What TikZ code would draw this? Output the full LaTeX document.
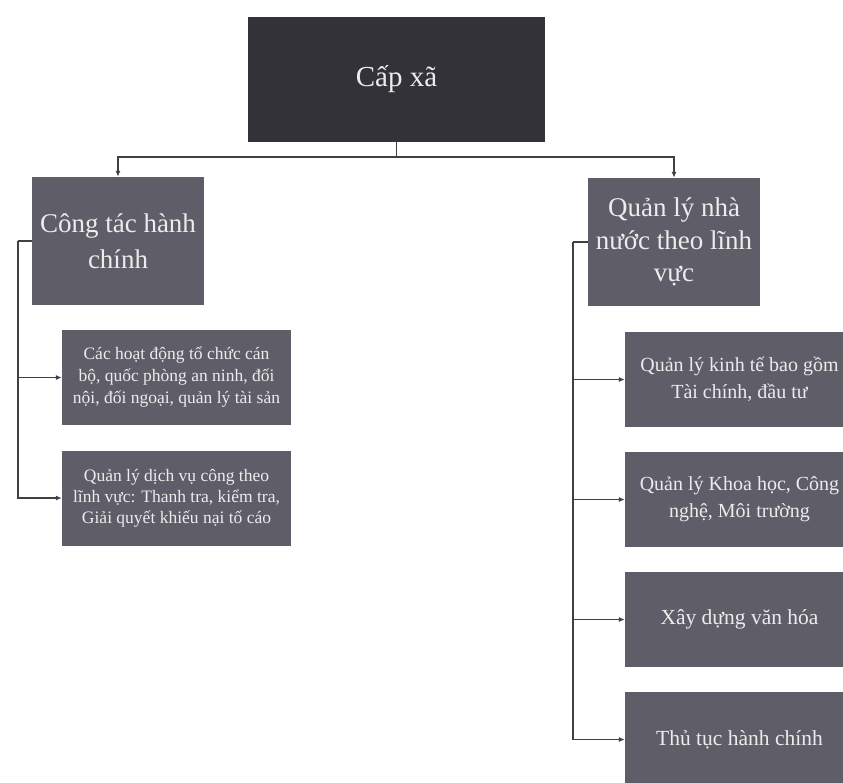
\documentclass[tikz,border=0pt]{standalone}
\usepackage{fontspec}
\setmainfont{Liberation Serif}
\usetikzlibrary{arrows.meta}
\definecolor{topfill}{HTML}{333238}
\definecolor{boxfill}{HTML}{5F5E68}
\definecolor{linecol}{HTML}{3F3F44}
\definecolor{txt}{HTML}{ECECEC}
\tikzset{
  topbox/.style={rectangle, fill=topfill, text=txt, minimum width=297pt, minimum height=125pt, inner sep=0pt, align=center, font=\fontsize{29}{32}\selectfont},
  midbox/.style={rectangle, fill=boxfill, text=txt, minimum width=172pt, minimum height=128pt, inner sep=0pt, align=center},
  subbox/.style={rectangle, fill=boxfill, text=txt, minimum width=229pt, minimum height=95pt, inner sep=0pt, align=center},
  conn/.style={draw=linecol, line width=1.5pt, -{Latex[length=6pt,width=5pt]}},
  plain/.style={draw=linecol, line width=1.5pt}
}
\begin{document}
\begin{tikzpicture}[x=1pt,y=-1pt]
\useasboundingbox (0,0) rectangle (843,782);
\clip (0,0) rectangle (843,782);
\fill[white] (0,0) rectangle (843,782);
\node[topbox] (top) at (396.5,79.5) {Cấp xã};
\node[midbox, font=\fontsize{27}{36}\selectfont] (left) at (118,241) {Công tác hành\\chính};
\node[midbox, font=\fontsize{27}{32.5}\selectfont] (right) at (674,242) {Quản lý nhà\\nước theo lĩnh\\vực};
\node[subbox, font=\fontsize{17.5}{22}\selectfont] (l1) at (176.5,377.5) {Các hoạt động tổ chức cán\\bộ, quốc phòng an ninh, đối\\nội, đối ngoại, quản lý tài sản};
\node[subbox, font=\fontsize{17.5}{21}\selectfont] (l2) at (176.5,498) {Quản lý dịch vụ công theo\\lĩnh vực: Thanh tra, kiểm tra,\\Giải quyết khiếu nại tố cáo};
\node[subbox, font=\fontsize{20}{27}\selectfont] (r1) at (739.5,379.5) {Quản lý kinh tế bao gồm\\Tài chính, đầu tư};
\node[subbox, font=\fontsize{20}{27}\selectfont] (r2) at (739.5,499.5) {Quản lý Khoa học, Công\\nghệ, Môi trường};
\node[subbox, font=\fontsize{21.5}{27}\selectfont] (r3) at (739.5,619.5) {Xây dựng văn hóa};
\node[subbox, font=\fontsize{21.5}{27}\selectfont] (r4) at (739.5,739.5) {Thủ tục hành chính};
\draw[plain] (top.south) -- ++(0,15) coordinate (hub);
\draw[conn] (hub) -| (left.north);
\draw[conn] (hub) -| (right.north);
\draw[plain] (left.west) -- ++(-14,0) coordinate (lb);
\draw[conn] (lb) |- (l1.west);
\draw[conn] (lb) |- (l2.west);
\draw[plain] (right.west) -- ++(-15,0) coordinate (rb);
\draw[conn] (rb) |- (r1.west);
\draw[conn] (rb) |- (r2.west);
\draw[conn] (rb) |- (r3.west);
\draw[conn] (rb) |- (r4.west);
\end{tikzpicture}
\end{document}
